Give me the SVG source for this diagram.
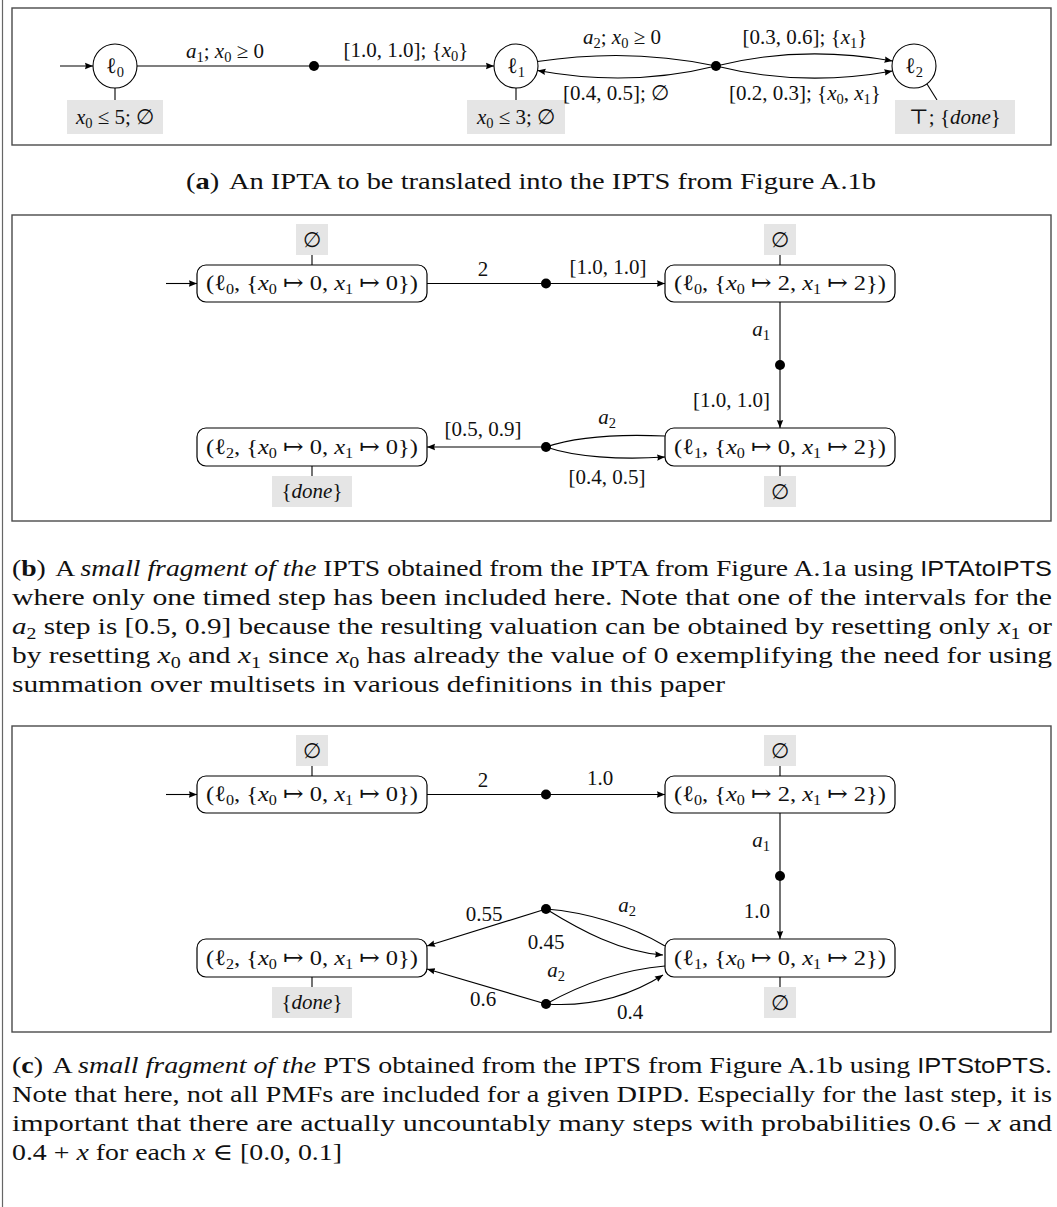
<svg xmlns="http://www.w3.org/2000/svg" width="1057" height="1207" viewBox="0 0 1057 1207">
<style>
  text { font-family: "Liberation Serif", "DejaVu Serif", serif; font-size: 21px; fill: #111; }
  .i { font-style: italic; }
  .s { font-size: 14.5px; }
  .b { font-weight: bold; }
  .sf { font-family: "Liberation Sans", "DejaVu Sans", sans-serif; font-size: 21.5px; }
  .cap { font-size: 23.5px; }
  .cs { font-size: 16px; }
  .nt { font-size: 22px; }
  .frame { fill: none; stroke: #4a4a4a; stroke-width: 1.4; }
  .tag { fill: #e5e5e5; }
  .ln { fill: none; stroke: #000; stroke-width: 1.1; }
  .arr { fill: none; stroke: #000; stroke-width: 1.1; marker-end: url(#tip); }
  .loc { fill: #fff; stroke: #000; stroke-width: 1.1; }
  .st { fill: #fff; stroke: #000; stroke-width: 1.2; }
  .dot { fill: #000; }
</style>
<defs>
  <marker id="tip" markerUnits="userSpaceOnUse" markerWidth="9" markerHeight="8" refX="8" refY="4" orient="auto">
    <path d="M0,0.8 L8,4 L0,7.2 Q1.6,4 0,0.8 Z" fill="#000"/>
  </marker>
</defs>

<!-- page margin rule and panel frames -->
<line x1="2.5" y1="0" x2="2.5" y2="1207" stroke="#666" stroke-width="1.2"/>
<rect class="frame" x="12" y="8" width="1039" height="137"/>
<rect class="frame" x="12" y="215" width="1039" height="306"/>
<rect class="frame" x="12" y="726" width="1039" height="306"/>

<!-- ===== panel (a): IPTA ===== -->
<g id="a-l0">
  <circle class="loc" cx="115" cy="66" r="22"/>
  <text x="115" y="73" text-anchor="middle" class="nt">ℓ<tspan class="s" dy="4">0</tspan></text>
  <line class="ln" x1="115" y1="88" x2="115" y2="100"/>
  <rect class="tag" x="67" y="100" width="96" height="34"/>
  <text x="115" y="124" text-anchor="middle"><tspan class="i">x</tspan><tspan class="s" dy="4">0</tspan><tspan dy="-4"> ≤ 5; ∅</tspan></text>
</g>
<g id="a-l1">
  <circle class="loc" cx="516" cy="66" r="22"/>
  <text x="516" y="73" text-anchor="middle" class="nt">ℓ<tspan class="s" dy="4">1</tspan></text>
  <line class="ln" x1="516" y1="88" x2="516" y2="100"/>
  <rect class="tag" x="467" y="100" width="98" height="34"/>
  <text x="516" y="124" text-anchor="middle"><tspan class="i">x</tspan><tspan class="s" dy="4">0</tspan><tspan dy="-4"> ≤ 3; ∅</tspan></text>
</g>
<g id="a-l2">
  <circle class="loc" cx="914" cy="66" r="22"/>
  <text x="914" y="73" text-anchor="middle" class="nt">ℓ<tspan class="s" dy="4">2</tspan></text>
  <line class="ln" x1="927" y1="84" x2="937" y2="100"/>
  <rect class="tag" x="895" y="100" width="120" height="34"/>
  <text x="955" y="124" text-anchor="middle">⊤; {<tspan class="i">done</tspan>}</text>
</g>
<g id="a-edges">
  <path class="arr" d="M60,66 H93"/>
  <path class="ln" d="M137,66 H314"/>
  <circle class="dot" cx="314" cy="66" r="5"/>
  <path class="arr" d="M314,66 H494"/>
  <path class="ln" d="M537.5,61.5 C600,52 660,54 716,66"/>
  <path class="arr" d="M716,66 C660,80 600,82 537.5,70.5"/>
  <path class="arr" d="M716,66 C772,52 832,50 892.5,61"/>
  <path class="arr" d="M716,66 C772,80 832,82 892.5,71"/>
  <circle class="dot" cx="716" cy="66" r="5"/>
  <text x="225" y="58" text-anchor="middle"><tspan class="i">a</tspan><tspan class="s" dy="4">1</tspan><tspan dy="-4">; </tspan><tspan class="i">x</tspan><tspan class="s" dy="4">0</tspan><tspan dy="-4"> ≥ 0</tspan></text>
  <text x="406" y="57" text-anchor="middle">[1.0, 1.0]; {<tspan class="i">x</tspan><tspan class="s" dy="4">0</tspan><tspan dy="-4">}</tspan></text>
  <text x="622" y="44" text-anchor="middle"><tspan class="i">a</tspan><tspan class="s" dy="4">2</tspan><tspan dy="-4">; </tspan><tspan class="i">x</tspan><tspan class="s" dy="4">0</tspan><tspan dy="-4"> ≥ 0</tspan></text>
  <text x="616" y="100" text-anchor="middle">[0.4, 0.5]; ∅</text>
  <text x="805" y="44" text-anchor="middle">[0.3, 0.6]; {<tspan class="i">x</tspan><tspan class="s" dy="4">1</tspan><tspan dy="-4">}</tspan></text>
  <text x="805" y="100" text-anchor="middle">[0.2, 0.3]; {<tspan class="i">x</tspan><tspan class="s" dy="4">0</tspan><tspan dy="-4">, </tspan><tspan class="i">x</tspan><tspan class="s" dy="4">1</tspan><tspan dy="-4">}</tspan></text>
</g>

<text x="531" y="189" class="cap" text-anchor="middle" textLength="690" lengthAdjust="spacingAndGlyphs">(<tspan class="b">a</tspan>)<tspan dx="8">An IPTA to be translated into the IPTS from Figure A.1b</tspan></text>

<!-- ===== panel (b): IPTS fragment ===== -->
<g id="b-s0">
  <rect class="tag" x="296" y="224" width="32" height="31"/>
  <text x="312" y="247" text-anchor="middle">∅</text>
  <line class="ln" x1="312" y1="255" x2="312" y2="265"/>
  <rect class="st" x="197" y="265" width="230" height="37" rx="9"/>
  <text x="312" y="290" text-anchor="middle" class="nt" textLength="212" lengthAdjust="spacingAndGlyphs">(ℓ<tspan class="s" dy="4">0</tspan><tspan dy="-4">, {</tspan><tspan class="i">x</tspan><tspan class="s" dy="4">0</tspan><tspan dy="-4"> ↦ 0, </tspan><tspan class="i">x</tspan><tspan class="s" dy="4">1</tspan><tspan dy="-4"> ↦ 0})</tspan></text>
</g>
<g id="b-s1">
  <rect class="tag" x="764" y="224" width="32" height="31"/>
  <text x="780" y="247" text-anchor="middle">∅</text>
  <line class="ln" x1="780" y1="255" x2="780" y2="265"/>
  <rect class="st" x="665" y="265" width="230" height="37" rx="9"/>
  <text x="780" y="290" text-anchor="middle" class="nt" textLength="212" lengthAdjust="spacingAndGlyphs">(ℓ<tspan class="s" dy="4">0</tspan><tspan dy="-4">, {</tspan><tspan class="i">x</tspan><tspan class="s" dy="4">0</tspan><tspan dy="-4"> ↦ 2, </tspan><tspan class="i">x</tspan><tspan class="s" dy="4">1</tspan><tspan dy="-4"> ↦ 2})</tspan></text>
</g>
<g id="b-s2">
  <rect class="st" x="665" y="428" width="230" height="38" rx="9"/>
  <text x="780" y="454" text-anchor="middle" class="nt" textLength="212" lengthAdjust="spacingAndGlyphs">(ℓ<tspan class="s" dy="4">1</tspan><tspan dy="-4">, {</tspan><tspan class="i">x</tspan><tspan class="s" dy="4">0</tspan><tspan dy="-4"> ↦ 0, </tspan><tspan class="i">x</tspan><tspan class="s" dy="4">1</tspan><tspan dy="-4"> ↦ 2})</tspan></text>
  <line class="ln" x1="780" y1="466" x2="780" y2="476"/>
  <rect class="tag" x="764" y="476" width="32" height="31"/>
  <text x="780" y="499" text-anchor="middle">∅</text>
</g>
<g id="b-s3">
  <rect class="st" x="197" y="428" width="230" height="38" rx="9"/>
  <text x="312" y="454" text-anchor="middle" class="nt" textLength="212" lengthAdjust="spacingAndGlyphs">(ℓ<tspan class="s" dy="4">2</tspan><tspan dy="-4">, {</tspan><tspan class="i">x</tspan><tspan class="s" dy="4">0</tspan><tspan dy="-4"> ↦ 0, </tspan><tspan class="i">x</tspan><tspan class="s" dy="4">1</tspan><tspan dy="-4"> ↦ 0})</tspan></text>
  <line class="ln" x1="312" y1="466" x2="312" y2="476"/>
  <rect class="tag" x="272" y="476" width="80" height="31"/>
  <text x="312" y="498" text-anchor="middle">{<tspan class="i">done</tspan>}</text>
</g>
<g id="b-edges">
  <path class="arr" d="M166,283.5 H197"/>
  <path class="ln" d="M427,283.5 H546"/>
  <circle class="dot" cx="546" cy="283.5" r="5"/>
  <path class="arr" d="M546,283.5 H665"/>
  <path class="ln" d="M780,302 V365"/>
  <circle class="dot" cx="780" cy="365" r="5"/>
  <path class="arr" d="M780,365 V428"/>
  <path class="ln" d="M546,447 C575,437 620,434 665,436"/>
  <path class="arr" d="M546,447 C575,457 620,460 665,457"/>
  <path class="arr" d="M546,447 H427"/>
  <circle class="dot" cx="546" cy="447" r="5"/>
  <text x="483" y="276" text-anchor="middle">2</text>
  <text x="608" y="274" text-anchor="middle">[1.0, 1.0]</text>
  <text x="770" y="336" text-anchor="end"><tspan class="i">a</tspan><tspan class="s" dy="4">1</tspan></text>
  <text x="770" y="407" text-anchor="end">[1.0, 1.0]</text>
  <text x="607" y="424" text-anchor="middle"><tspan class="i">a</tspan><tspan class="s" dy="4">2</tspan></text>
  <text x="607" y="484" text-anchor="middle">[0.4, 0.5]</text>
  <text x="483" y="436" text-anchor="middle">[0.5, 0.9]</text>
</g>

<g id="b-caption">
  <text x="12" y="576" class="cap" textLength="1040" lengthAdjust="spacingAndGlyphs">(<tspan class="b">b</tspan>)<tspan dx="8">A </tspan><tspan class="i">small fragment of the</tspan> IPTS obtained from the IPTA from Figure A.1a using <tspan class="sf">IPTAtoIPTS</tspan></text>
  <text x="12" y="605" class="cap" textLength="1040" lengthAdjust="spacingAndGlyphs">where only one timed step has been included here. Note that one of the intervals for the</text>
  <text x="12" y="634" class="cap" textLength="1040" lengthAdjust="spacingAndGlyphs"><tspan class="i">a</tspan><tspan class="cs" dy="5">2</tspan><tspan dy="-5"> step is [0.5, 0.9] because the resulting valuation can be obtained by resetting only </tspan><tspan class="i">x</tspan><tspan class="cs" dy="5">1</tspan><tspan dy="-5"> or</tspan></text>
  <text x="12" y="663" class="cap" textLength="1040" lengthAdjust="spacingAndGlyphs">by resetting <tspan class="i">x</tspan><tspan class="cs" dy="5">0</tspan><tspan dy="-5"> and </tspan><tspan class="i">x</tspan><tspan class="cs" dy="5">1</tspan><tspan dy="-5"> since </tspan><tspan class="i">x</tspan><tspan class="cs" dy="5">0</tspan><tspan dy="-5"> has already the value of 0 exemplifying the need for using</tspan></text>
  <text x="12" y="692" class="cap" textLength="713" lengthAdjust="spacingAndGlyphs">summation over multisets in various definitions in this paper</text>
</g>

<!-- ===== panel (c): PTS fragment ===== -->
<g id="c-s0">
  <rect class="tag" x="296" y="735" width="32" height="31"/>
  <text x="312" y="758" text-anchor="middle">∅</text>
  <line class="ln" x1="312" y1="766" x2="312" y2="776"/>
  <rect class="st" x="197" y="776" width="230" height="37" rx="9"/>
  <text x="312" y="801" text-anchor="middle" class="nt" textLength="212" lengthAdjust="spacingAndGlyphs">(ℓ<tspan class="s" dy="4">0</tspan><tspan dy="-4">, {</tspan><tspan class="i">x</tspan><tspan class="s" dy="4">0</tspan><tspan dy="-4"> ↦ 0, </tspan><tspan class="i">x</tspan><tspan class="s" dy="4">1</tspan><tspan dy="-4"> ↦ 0})</tspan></text>
</g>
<g id="c-s1">
  <rect class="tag" x="764" y="735" width="32" height="31"/>
  <text x="780" y="758" text-anchor="middle">∅</text>
  <line class="ln" x1="780" y1="766" x2="780" y2="776"/>
  <rect class="st" x="665" y="776" width="230" height="37" rx="9"/>
  <text x="780" y="801" text-anchor="middle" class="nt" textLength="212" lengthAdjust="spacingAndGlyphs">(ℓ<tspan class="s" dy="4">0</tspan><tspan dy="-4">, {</tspan><tspan class="i">x</tspan><tspan class="s" dy="4">0</tspan><tspan dy="-4"> ↦ 2, </tspan><tspan class="i">x</tspan><tspan class="s" dy="4">1</tspan><tspan dy="-4"> ↦ 2})</tspan></text>
</g>
<g id="c-s2">
  <rect class="st" x="665" y="939" width="230" height="38" rx="9"/>
  <text x="780" y="965" text-anchor="middle" class="nt" textLength="212" lengthAdjust="spacingAndGlyphs">(ℓ<tspan class="s" dy="4">1</tspan><tspan dy="-4">, {</tspan><tspan class="i">x</tspan><tspan class="s" dy="4">0</tspan><tspan dy="-4"> ↦ 0, </tspan><tspan class="i">x</tspan><tspan class="s" dy="4">1</tspan><tspan dy="-4"> ↦ 2})</tspan></text>
  <line class="ln" x1="780" y1="977" x2="780" y2="987"/>
  <rect class="tag" x="764" y="987" width="32" height="31"/>
  <text x="780" y="1010" text-anchor="middle">∅</text>
</g>
<g id="c-s3">
  <rect class="st" x="197" y="939" width="230" height="38" rx="9"/>
  <text x="312" y="965" text-anchor="middle" class="nt" textLength="212" lengthAdjust="spacingAndGlyphs">(ℓ<tspan class="s" dy="4">2</tspan><tspan dy="-4">, {</tspan><tspan class="i">x</tspan><tspan class="s" dy="4">0</tspan><tspan dy="-4"> ↦ 0, </tspan><tspan class="i">x</tspan><tspan class="s" dy="4">1</tspan><tspan dy="-4"> ↦ 0})</tspan></text>
  <line class="ln" x1="312" y1="977" x2="312" y2="987"/>
  <rect class="tag" x="272" y="987" width="80" height="31"/>
  <text x="312" y="1009" text-anchor="middle">{<tspan class="i">done</tspan>}</text>
</g>
<g id="c-edges">
  <path class="arr" d="M166,794.5 H197"/>
  <path class="ln" d="M427,794.5 H546"/>
  <circle class="dot" cx="546" cy="794.5" r="5"/>
  <path class="arr" d="M546,794.5 H665"/>
  <path class="ln" d="M780,813 V876"/>
  <circle class="dot" cx="780" cy="876" r="5"/>
  <path class="arr" d="M780,876 V939"/>
  <!-- upper a2 step -->
  <path class="ln" d="M546,909 C585,912 630,925 665,946"/>
  <path class="arr" d="M546,909 C580,930 620,952 663,955"/>
  <path class="arr" d="M546,909 L427,946"/>
  <circle class="dot" cx="546" cy="909" r="5"/>
  <!-- lower a2 step -->
  <path class="ln" d="M546,1004 C580,985 620,970 665,966"/>
  <path class="arr" d="M546,1004 C590,1007 630,996 663,975"/>
  <path class="arr" d="M546,1004 L427,969"/>
  <circle class="dot" cx="546" cy="1004" r="5"/>
  <text x="483" y="787" text-anchor="middle">2</text>
  <text x="600" y="785" text-anchor="middle">1.0</text>
  <text x="770" y="847" text-anchor="end"><tspan class="i">a</tspan><tspan class="s" dy="4">1</tspan></text>
  <text x="770" y="918" text-anchor="end">1.0</text>
  <text x="484" y="921" text-anchor="middle">0.55</text>
  <text x="546" y="949" text-anchor="middle">0.45</text>
  <text x="627" y="912" text-anchor="middle"><tspan class="i">a</tspan><tspan class="s" dy="4">2</tspan></text>
  <text x="556" y="977" text-anchor="middle"><tspan class="i">a</tspan><tspan class="s" dy="4">2</tspan></text>
  <text x="483" y="1006" text-anchor="middle">0.6</text>
  <text x="630" y="1019" text-anchor="middle">0.4</text>
</g>

<g id="c-caption">
  <text x="12" y="1073" class="cap" textLength="1040" lengthAdjust="spacingAndGlyphs">(<tspan class="b">c</tspan>)<tspan dx="8">A </tspan><tspan class="i">small fragment of the</tspan> PTS obtained from the IPTS from Figure A.1b using <tspan class="sf">IPTStoPTS</tspan>.</text>
  <text x="12" y="1102" class="cap" textLength="1040" lengthAdjust="spacingAndGlyphs">Note that here, not all PMFs are included for a given DIPD. Especially for the last step, it is</text>
  <text x="12" y="1131" class="cap" textLength="1040" lengthAdjust="spacingAndGlyphs">important that there are actually uncountably many steps with probabilities 0.6 − <tspan class="i">x</tspan> and</text>
  <text x="12" y="1160" class="cap" textLength="330" lengthAdjust="spacingAndGlyphs">0.4 + <tspan class="i">x</tspan> for each <tspan class="i">x</tspan> ∈ [0.0, 0.1]</text>
</g>
</svg>
